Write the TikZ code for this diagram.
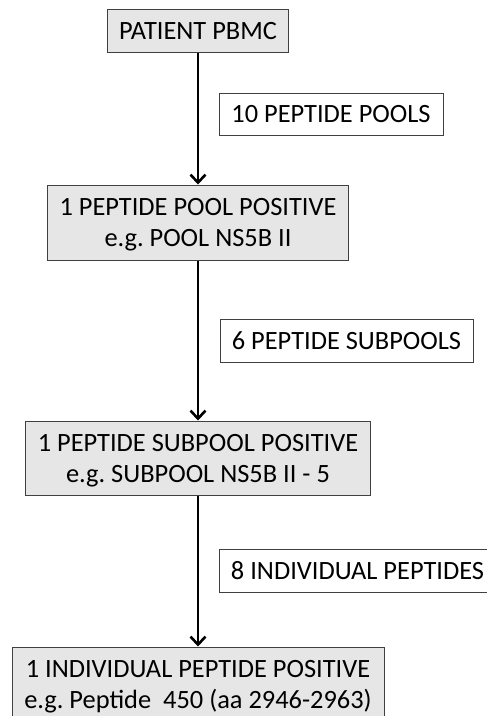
\documentclass[tikz,border=0pt]{standalone}
\usepackage{fontspec}
\setmainfont{Carlito}
\usepackage{tikz}
\usetikzlibrary{arrows.meta}
\definecolor{myfillcolor}{rgb}{0.902,0.902,0.902}
\definecolor{mylinecolor}{rgb}{0.25,0.25,0.25}
\frenchspacing
\tikzset{
  stagebox/.style={draw=mylinecolor, fill=myfillcolor, line width=1pt, align=center, inner sep=0pt, text depth=-6pt},
  countbox/.style={draw=mylinecolor, fill=white, line width=0.9pt, align=center, inner sep=0pt, text depth=-3pt},
  flowarrow/.style={line width=2.6pt, -{Straight Barb[length=8pt,width=15pt,line width=2.6pt]}}
}

\begin{document}
\begin{tikzpicture}[x=1pt, y=-1pt]\fontsize{26.4}{31}\selectfont
\useasboundingbox (0,0) rectangle (487,716);
\node[stagebox, minimum width=181pt, minimum height=43pt] (pbmc) at (198,30.5) {PATIENT PBMC};
\node[stagebox, minimum width=301pt, minimum height=75pt] (pool) at (198,222.5) {1 PEPTIDE POOL POSITIVE\\e.g. POOL NS5B II};
\node[stagebox, minimum width=345pt, minimum height=74pt] (subpool) at (198,458) {1 PEPTIDE SUBPOOL POSITIVE\\e.g. SUBPOOL NS5B II - 5};
\node[stagebox, minimum width=372pt, minimum height=74pt] (single) at (198,684) {1 INDIVIDUAL PEPTIDE POSITIVE\\e.g. Peptide~ 450 (aa 2946-2963)};
\node[countbox, minimum width=224pt, minimum height=42pt] (pools) at (331,114) {10 PEPTIDE POOLS};
\node[countbox, minimum width=253pt, minimum height=43pt] (subpools) at (346.5,340.5) {6 PEPTIDE SUBPOOLS};
\node[countbox, minimum width=277pt, minimum height=43pt] (peptides) at (357.5,570.5) {8 INDIVIDUAL PEPTIDES};
\draw[flowarrow] (pbmc.south) -- (pool.north);
\draw[flowarrow] (pool.south) -- (subpool.north);
\draw[flowarrow] (subpool.south) -- (single.north);
\end{tikzpicture}
\end{document}
